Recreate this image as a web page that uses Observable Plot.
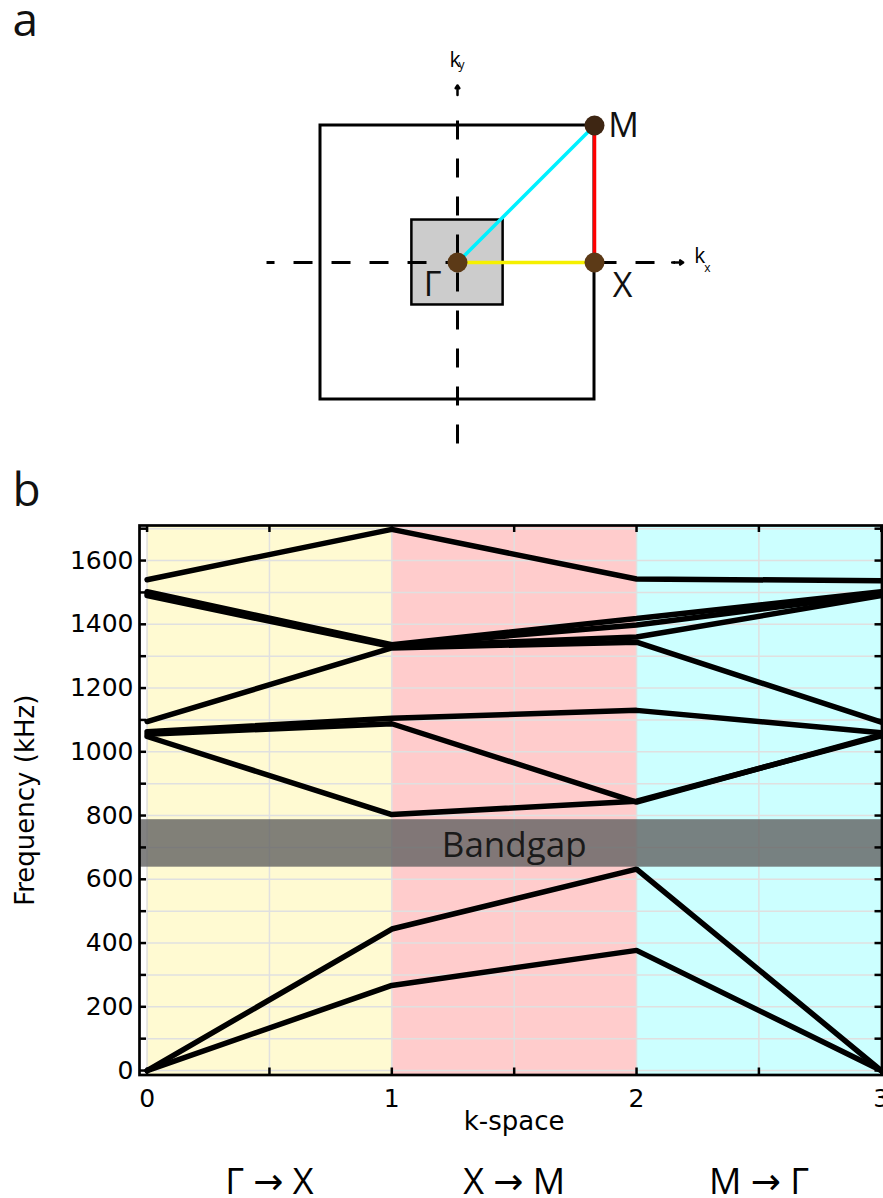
<!DOCTYPE html>
<html><head><meta charset="utf-8">
<script src="https://cdn.jsdelivr.net/npm/d3@7"></script>
<script src="https://cdn.jsdelivr.net/npm/@observablehq/plot@0.6"></script>
<style>
html,body{margin:0;padding:0;background:#fff;}
#chart svg{display:block;}
</style></head><body><div id="chart"></div>
<script>
// ---------- Panel a: Brillouin zone (k in units of pi/a) ----------
const symNames = ["Γ", "X", "M"];
const symKx = [0, 1, 1];
const symKy = [0, 0, 1];
const zoneHalf = [1, 1];          // first Brillouin zone half-size (kx, ky)
const cellHalf = [0.333, 0.31];   // unit cell (grey square) half-size
const kxAxisRange = [-1.394, 1.647];
const kyAxisRange = [-1.321, 1.292];

// ---------- Panel b: band structure ----------
const kPos = [0, 1, 2, 3];
const kTickLabels = ["0", "1", "2", "3"];
const kMinor = [0, 0.5, 1, 1.5, 2, 2.5, 3];
const segmentNames = ["Γ → X", "X → M", "M → Γ"];
const segmentStart = [0, 1, 2];
const segmentEnd = [1, 2, 3];
const freqTicks = [0, 200, 400, 600, 800, 1000, 1200, 1400, 1600];
const freqTickLabels = ["0", "200", "400", "600", "800", "1000", "1200", "1400", "1600"];
const freqMinor = [0, 100, 200, 300, 400, 500, 600, 700, 800, 900, 1000, 1100, 1200, 1300, 1400, 1500, 1600, 1700];
const band1 = [0, 267, 377, 0];
const band2 = [0, 444, 632, 0];
const band3 = [1048, 803, 845, 1050];
const band4 = [1055, 1088, 842, 1053];
const band5 = [1063, 1105, 1130, 1060];
const band6 = [1095, 1326, 1344, 1093];
const band7 = [1490, 1330, 1360, 1490];
const band8 = [1496, 1333, 1398, 1496];
const band9 = [1502, 1336, 1418, 1502];
const band10 = [1540, 1698, 1542, 1537];
const bandgap = [638, 787];

const bands = [band1, band2, band3, band4, band5, band6, band7, band8, band9, band10];
const bandTable = bands.flatMap((b, j) => b.map((f, i) => ({band: j, k: kPos[i], f})));
const sym = symNames.map((name, i) => ({name, kx: symKx[i], ky: symKy[i]}));
const segments = segmentNames.map((name, i) => ({name, x1: segmentStart[i], x2: segmentEnd[i], mid: (segmentStart[i] + segmentEnd[i]) / 2}));

// ---------- layout ----------
const W = 883;
const HA = 460, HB = 738;
const unit = 137, cx = 457, cy = 262;

const pa = Plot.plot({
  width: W, height: HA, margin: 0,
  x: {domain: [-cx / unit, (W - cx) / unit], axis: null},
  y: {domain: [-(HA - cy) / unit, cy / unit], axis: null},
  style: {fontFamily: "'Open Sans', 'DejaVu Sans', sans-serif", overflow: "visible", background: "white"},
  marks: [
    Plot.rect([zoneHalf], {x1: d => -d[0], x2: d => d[0], y1: d => -d[1], y2: d => d[1], fill: "none", stroke: "black", strokeWidth: 3}),
    Plot.rect([cellHalf], {x1: d => -d[0], x2: d => d[0], y1: d => -d[1], y2: d => d[1], fill: "#cccccc", stroke: "black", strokeWidth: 2.5}),
    Plot.link([kxAxisRange], {x1: d => d[0], x2: d => d[1] - 0.06, y1: 0, y2: 0, stroke: "black", strokeWidth: 3, strokeDasharray: "19,19", strokeDashoffset: 11}),
    Plot.arrow([kxAxisRange], {x1: d => d[1] - 0.08, x2: d => d[1], y1: 0, y2: 0, stroke: "black", strokeWidth: 2.5, headLength: 7, headAngle: 70}),
    Plot.link([kyAxisRange], {x1: 0, x2: 0, y1: d => d[0], y2: d => d[1] - 0.12, stroke: "black", strokeWidth: 3, strokeDasharray: "19,19", strokeDashoffset: 0}),
    Plot.arrow([kyAxisRange], {x1: 0, x2: 0, y1: d => d[1] - 0.07, y2: d => d[1], stroke: "black", strokeWidth: 2.5, headLength: 7, headAngle: 70}),
    Plot.link([[sym[0], sym[2]]], {x1: d => d[0].kx, y1: d => d[0].ky, x2: d => d[1].kx, y2: d => d[1].ky, stroke: "#00f0ff", strokeWidth: 3.5}),
    Plot.link([[sym[1], sym[2]]], {x1: d => d[0].kx, y1: d => d[0].ky, x2: d => d[1].kx, y2: d => d[1].ky, stroke: "#ff0000", strokeWidth: 3.5}),
    Plot.link([[sym[0], sym[1]]], {x1: d => d[0].kx, y1: d => d[0].ky, x2: d => d[1].kx, y2: d => d[1].ky, stroke: "#f5f000", strokeWidth: 3.5}),
    Plot.dot(sym, {x: "kx", y: "ky", r: 10, fill: (d, i) => i === 2 ? "#3e2613" : "#5c3a17", stroke: "none"}),
    Plot.text([sym[0]], {x: "kx", y: "ky", text: "name", dx: -25, dy: 33, lineAnchor: "bottom", fontSize: 34, fill: "#111"}),
    Plot.text([sym[1]], {x: "kx", y: "ky", text: "name", dx: 28, dy: 34, lineAnchor: "bottom", fontSize: 34, fill: "#111"}),
    Plot.text([sym[2]], {x: "kx", y: "ky", text: "name", dx: 29, dy: 11, lineAnchor: "bottom", fontSize: 34, fill: "#111"}),
    Plot.text([kxAxisRange], {x: d => d[1], y: 0, text: () => "k", dx: 11, dy: 0, textAnchor: "start", lineAnchor: "bottom", fontSize: 21}),
    Plot.text([kxAxisRange], {x: d => d[1], y: 0, text: () => "x", dx: 21, dy: 9, textAnchor: "start", lineAnchor: "bottom", fontSize: 12}),
    Plot.text([kyAxisRange], {x: 0, y: d => d[1], text: () => "k", dx: -8, dy: -18, textAnchor: "start", lineAnchor: "bottom", fontSize: 21}),
    Plot.text([kyAxisRange], {x: 0, y: d => d[1], text: () => "y", dx: 1, dy: -16.5, textAnchor: "start", lineAnchor: "bottom", fontSize: 12}),
    Plot.text(["a"], {frameAnchor: "top-left", dx: 12, dy: 35, textAnchor: "start", lineAnchor: "bottom", fontSize: 46, fill: "#111"})
  ]
});

const mL = 139, mR = 1.5, mT = 65, mB = 123.5;
const fw = W - mL - mR, fh = HB - mT - mB;
const bgColors = ["#fffad2", "#ffcccc", "#ccffff"];

const pb = Plot.plot({
  width: W, height: HB,
  marginLeft: mL, marginRight: mR, marginTop: mT, marginBottom: mB,
  x: {domain: [-0.031, 3.003]},
  y: {domain: [-14, 1710]},
  style: {fontFamily: "'DejaVu Sans', sans-serif", fontSize: "25px", overflow: "visible", background: "white"},
  marks: [
    Plot.rect(segments, {x1: "x1", x2: "x2", fill: (d, i) => bgColors[i]}),
    Plot.gridY(freqMinor, {stroke: "#e0e0e0", strokeOpacity: 1, strokeWidth: 1.5}),
    Plot.gridX(kMinor, {stroke: "#e0e0e0", strokeOpacity: 1, strokeWidth: 1.5}),
    Plot.rect([bandgap], {y1: d => d[0], y2: d => d[1], fill: "#626262", fillOpacity: 0.8}),
    Plot.line(bandTable, {x: "k", y: "f", z: "band", stroke: "black", strokeWidth: 5.5, strokeLinejoin: "miter"}),
    Plot.text([bandgap], {x: 1.5, y: d => (d[0] + d[1]) / 2, text: () => "Bandgap", lineAnchor: "bottom", dy: 14, fontSize: 35, fontFamily: "'Open Sans', sans-serif", fill: "#1a1a1a"}),
    Plot.frame({stroke: "black", strokeWidth: 2.7}),
    Plot.tickY(freqMinor, {y: d => d, insetRight: fw - 7, stroke: "black", strokeWidth: 2.5}),
    Plot.tickY(freqMinor, {y: d => d, insetLeft: fw - 7, stroke: "black", strokeWidth: 2.5}),
    Plot.tickX(kMinor, {x: d => d, insetBottom: fh - 7, stroke: "black", strokeWidth: 2.5}),
    Plot.tickX(kMinor, {x: d => d, insetTop: fh - 7, stroke: "black", strokeWidth: 2.5}),
    Plot.axisY(freqTicks, {tickSize: 0, tickPadding: 6, label: null, fontSize: 25, tickFormat: d => freqTickLabels[freqTicks.indexOf(d)]}),
    Plot.axisX(kPos, {tickSize: 0, tickPadding: 14, label: null, fontSize: 25, tickFormat: d => kTickLabels[kPos.indexOf(d)]}),
    Plot.text(["Frequency (kHz)"], {frameAnchor: "left", dx: -114, rotate: -90, textAnchor: "middle", lineAnchor: "middle", fontSize: 26}),
    Plot.text(["k-space"], {x: 1.5, frameAnchor: "bottom", dy: 54.5, textAnchor: "middle", lineAnchor: "bottom", fontSize: 26}),
    Plot.text(segments, {x: "mid", frameAnchor: "bottom", text: "name", dy: 118.5, textAnchor: "middle", lineAnchor: "bottom", fontSize: 36, fontFamily: "'Open Sans', 'DejaVu Sans', sans-serif"}),
    Plot.text(["b"], {frameAnchor: "top-left", dx: -127, dy: -20, textAnchor: "start", lineAnchor: "bottom", fontSize: 46, fontFamily: "'Open Sans', sans-serif", fill: "#111"})
  ]
});

document.getElementById("chart").append(pa, pb);
</script></body></html>
